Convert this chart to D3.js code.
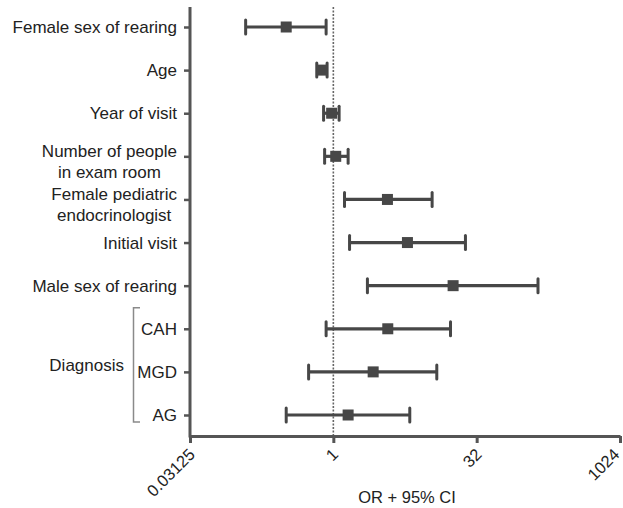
<!doctype html>
<html lang="en">
<head>
<meta charset="utf-8">
<title>Forest plot</title>
<script src="https://cdn.jsdelivr.net/npm/d3@7"></script>
<style>
  body { margin: 0; background: #fff; }
  svg text { font-family: "Liberation Sans", Arial, Helvetica, sans-serif; fill: #222; }
</style>
</head>
<body>
<svg id="chart" width="623" height="508"></svg>
<script>
// rows, top to bottom ("\n" splits a label into two lines)
var labels = ["Female sex of rearing", "Age", "Year of visit", "Number of people\nin exam room",
              "Female pediatric\nendocrinologist", "Initial visit", "Male sex of rearing",
              "CAH", "MGD", "AG"];
var oddsRatio = [0.32, 0.76, 0.96, 1.06, 3.7, 6.0, 18.1, 3.73, 2.62, 1.43];
var ciLow     = [0.12, 0.67, 0.79, 0.81, 1.31, 1.48, 2.28, 0.84, 0.55, 0.32];
var ciHigh    = [0.84, 0.86, 1.15, 1.43, 10.9, 24.4, 141, 17.0, 12.2, 6.35];
var groupRows = ["CAH", "MGD", "AG"];
var groupName = "Diagnosis";
var xTicks = [0.03125, 1, 32, 1024];
var xTitle = "OR + 95% CI";

var svg = d3.select("#chart");
var markColor = "#474747";

var x = d3.scaleLog().base(2).domain([0.03125, 1024]).range([190, 620]);
var y = d3.scalePoint().domain(labels).range([27, 415]);
var axisY = 436;

// reference line at OR = 1
svg.append("line")
  .attr("x1", x(1)).attr("x2", x(1))
  .attr("y1", 7).attr("y2", axisY)
  .style("stroke", "#666")
  .style("stroke-width", 1.6)
  .style("stroke-dasharray", "2,1.5");

// x axis
var xAxis = svg.append("g")
  .attr("transform", "translate(0," + axisY + ")")
  .call(d3.axisBottom(x).tickValues(xTicks).tickFormat(function(d) { return String(d); })
        .tickSize(7).tickSizeOuter(0));
xAxis.select(".domain").style("stroke", "#555").style("stroke-width", 3);
xAxis.selectAll(".tick line").style("stroke", "#555").style("stroke-width", 3);
xAxis.selectAll(".tick text")
  .style("font-size", "16.5px")
  .style("fill", "#222")
  .attr("text-anchor", "end")
  .attr("x", 0).attr("y", 0).attr("dy", 0)
  .attr("transform", function(d) {
    var dx = d == 1024 ? 0 : 5.5;
    return "translate(" + dx + ",19.5) rotate(-45)";
  });

svg.append("text")
  .attr("x", 407).attr("y", 503)
  .attr("text-anchor", "middle")
  .style("font-size", "16.5px")
  .text(xTitle);

// y axis
var yAxis = svg.append("g")
  .attr("transform", "translate(190,0)")
  .call(d3.axisLeft(y).tickSize(6).tickFormat(""));
yAxis.select(".domain").remove();
yAxis.selectAll(".tick line").style("stroke", "#555").style("stroke-width", 2.5);
svg.append("line")
  .attr("x1", 190).attr("x2", 190)
  .attr("y1", 7).attr("y2", axisY + 1.5)
  .style("stroke", "#555").style("stroke-width", 3);

// row labels
labels.forEach(function(lab) {
  var lines = lab.split("\n");
  var t = svg.append("text")
    .style("font-size", "17px");
  if (lines.length == 1) {
    t.attr("x", 177).attr("y", y(lab)).attr("dy", "0.36em")
     .attr("text-anchor", "end").text(lab);
  } else {
    lines.forEach(function(l, i) {
      t.append("tspan").attr("y", y(lab) + 1 + i * 20.5).text(l);
    });
    var w = d3.max(t.selectAll("tspan").nodes(), function(n) { return n.getComputedTextLength(); });
    t.attr("text-anchor", "middle");
    t.selectAll("tspan").attr("x", 177 - w / 2);
  }
});

// diagnosis bracket
var gTop = y(groupRows[0]) - 21, gBot = y(groupRows[groupRows.length - 1]) + 7;
svg.append("path")
  .attr("d", "M140," + gTop + "H133.5V" + gBot + "H140")
  .style("fill", "none").style("stroke", "#8a8a8a").style("stroke-width", 1.5);
svg.append("text")
  .attr("x", 124).attr("y", (gTop + gBot) / 2).attr("dy", "0.36em")
  .attr("text-anchor", "end")
  .style("font-size", "17px")
  .text(groupName);

// error bars
var rows = svg.append("g").selectAll("g")
  .data(labels)
  .join("g");

rows.append("line")
  .attr("x1", function(d, i) { return x(ciLow[i]); })
  .attr("x2", function(d, i) { return x(ciHigh[i]); })
  .attr("y1", function(d) { return y(d); })
  .attr("y2", function(d) { return y(d); })
  .style("stroke", markColor).style("stroke-width", 3.2);

[ciLow, ciHigh].forEach(function(arr) {
  rows.append("line")
    .attr("x1", function(d, i) { return x(arr[i]); })
    .attr("x2", function(d, i) { return x(arr[i]); })
    .attr("y1", function(d) { return y(d) - 7; })
    .attr("y2", function(d) { return y(d) + 7; })
    .style("stroke", markColor).style("stroke-width", 3)
    .style("stroke-linecap", "round");
});

rows.append("rect")
  .attr("x", function(d, i) { return x(oddsRatio[i]) - 5.5; })
  .attr("y", function(d) { return y(d) - 5.5; })
  .attr("width", 11).attr("height", 11)
  .style("fill", markColor);
</script>
</body>
</html>
